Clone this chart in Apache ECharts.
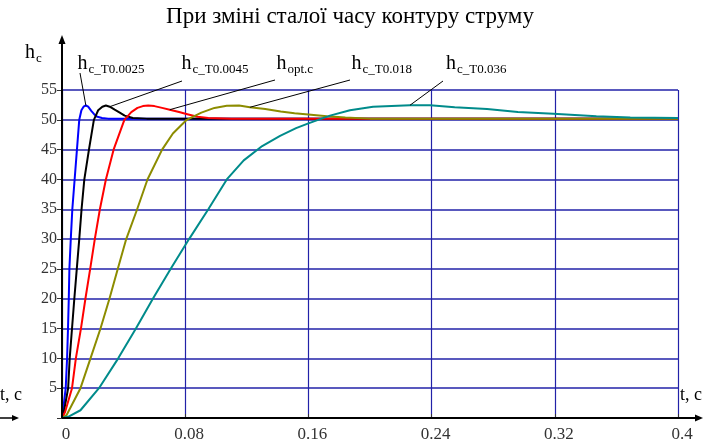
<!DOCTYPE html>
<html>
<head>
<meta charset="utf-8">
<script src="https://cdn.jsdelivr.net/npm/echarts@6/dist/echarts.min.js"></script>
<style>
  html, body { margin: 0; padding: 0; background: #fff; }
  #chart { width: 712px; height: 447px; }
</style>
</head>
<body>
<div id="chart"></div>
<script>
// Step responses of the speed loop h_c(t) for several current-loop time constants
const xTickLabels = ['0', '0.08', '0.16', '0.24', '0.32', '0.4'];
const yTickLabels = ['', '5', '10', '15', '20', '25', '30', '35', '40', '45', '50', '55'];

// T = 0.0025 s
const tBlue = [0, 0.0008, 0.0024, 0.0033, 0.0039, 0.0044, 0.0048, 0.0057, 0.0067, 0.0082, 0.0097, 0.0112,
  0.0126, 0.0140, 0.0155, 0.0170, 0.0190, 0.0210, 0.0230, 0.0260, 0.0300, 0.0400, 0.0800, 0.1600, 0.2400, 0.3200, 0.4000];
const hBlue = [0, 1.5, 5, 10, 15, 20, 25, 30, 35, 40, 45, 50,
  51.6, 52.2, 52.4, 52.2, 51.5, 50.9, 50.5, 50.3, 50.2, 50.2, 50.2, 50.2, 50.2, 50.2, 50.2];

// T = 0.0045 s
const tBlack = [0, 0.0012, 0.0040, 0.0050, 0.0065, 0.0080, 0.0096, 0.0112, 0.0127, 0.0145, 0.0175, 0.0207,
  0.0235, 0.0262, 0.0285, 0.0310, 0.0342, 0.0375, 0.0407, 0.0460, 0.0550, 0.0800, 0.1600, 0.2400, 0.3200, 0.4000];
const hBlack = [0, 1, 5, 10, 15, 20, 25, 30, 35, 40, 45, 50,
  51.6, 52.2, 52.4, 52.2, 51.7, 51.2, 50.7, 50.3, 50.2, 50.2, 50.2, 50.2, 50.2, 50.2];

// optimal setting
const tRed = [0, 0.0020, 0.0065, 0.0090, 0.0123, 0.0152, 0.0183, 0.0213, 0.0246, 0.0285, 0.0335, 0.0405,
  0.0450, 0.0490, 0.0525, 0.0560, 0.0600, 0.0650, 0.0700, 0.0760, 0.0820, 0.0880, 0.0950,
  0.1100, 0.1600, 0.2400, 0.3200, 0.4000];
const hRed = [0, 1, 5, 10, 15, 20, 25, 30, 35, 40, 45, 50,
  51.3, 52.0, 52.3, 52.4, 52.3, 52.0, 51.7, 51.3, 50.9, 50.5, 50.3,
  50.2, 50.2, 50.2, 50.2, 50.2];

// T = 0.018 s
const tOlive = [0, 0.0030, 0.0120, 0.0185, 0.0250, 0.0308, 0.0362, 0.0417, 0.0488, 0.0555, 0.0650, 0.0720,
  0.0810, 0.0905, 0.0990, 0.1070, 0.1150, 0.1220, 0.1320, 0.1420, 0.1510, 0.1600, 0.1720, 0.1840,
  0.2000, 0.2400, 0.3200, 0.4000];
const hOlive = [0, 0.5, 5, 10, 15, 20, 25, 30, 35, 40, 45, 47.7,
  50, 51.2, 52.0, 52.35, 52.4, 52.1, 51.8, 51.4, 51.1, 50.9, 50.6, 50.4,
  50.2, 50.2, 50.2, 50.2];

// T = 0.036 s
const tTeal = [0, 0.0040, 0.0120, 0.0240, 0.0365, 0.0480, 0.0590, 0.0705, 0.0825, 0.0950, 0.1070, 0.1180,
  0.1300, 0.1416, 0.1520, 0.1600, 0.1740, 0.1870, 0.2020, 0.2260, 0.2390, 0.2550,
  0.2760, 0.2960, 0.3190, 0.3470, 0.3690, 0.4000];
const hTeal = [0, 0.2, 1.3, 5, 10, 15, 20, 25, 30, 35, 40, 43.2,
  45.6, 47.3, 48.6, 49.4, 50.7, 51.6, 52.2, 52.45, 52.45, 52.1,
  51.8, 51.3, 51.0, 50.6, 50.4, 50.3];

const seriesSubs = ['c_T0.0025', 'c_T0.0045', 'opt.c', 'c_T0.018', 'c_T0.036'];
const seriesT = [tBlue, tBlack, tRed, tOlive, tTeal];
const seriesH = [hBlue, hBlack, hRed, hOlive, hTeal];
const seriesColors = ['#0000ff', '#000000', '#ff0000', '#8c8c00', '#008b8b'];
// sample index on each curve where its callout line ends
const calloutIdx = [14, 15, 18, 17, 19];

// callout text placement (h left edge, baseline) and start point of the leader line
const callouts = [
  { x: 77.5,  by: 70.5, lx: 80,  ly: 73 },
  { x: 181.5, by: 70.5, lx: 182, ly: 81 },
  { x: 276.5, by: 70.5, lx: 275, ly: 80 },
  { x: 351.5, by: 70.5, lx: 350, ly: 80 },
  { x: 446,   by: 70.5, lx: 443, ly: 81 }
];

const SERIF = '"Liberation Serif", "Times New Roman", serif';
const gridColor = '#2222a8';

const chart = echarts.init(document.getElementById('chart'), null, { renderer: 'canvas' });

chart.setOption({
  animation: false,
  backgroundColor: '#fff',
  grid: { left: 62, right: 34, top: 90, bottom: 29, containLabel: false },
  xAxis: {
    type: 'value', min: 0, max: 0.4, interval: 0.08,
    axisLine: { show: false },
    axisTick: { show: true, inside: true, length: 4, lineStyle: { color: '#333', width: 1 } },
    axisLabel: {
      margin: 8, padding: [0, 0, 0, 8], color: '#333',
      fontFamily: SERIF, fontSize: 17,
      formatter: (v, i) => xTickLabels[i]
    },
    splitLine: { show: true, lineStyle: { color: gridColor, width: 1.2 } }
  },
  yAxis: {
    type: 'value', min: 0, max: 55, interval: 5,
    axisLine: { show: false },
    axisTick: { show: true, inside: false, length: 5, lineStyle: { color: '#333', width: 1 } },
    axisLabel: {
      margin: 5, color: '#333', fontFamily: SERIF, fontSize: 16,
      formatter: (v, i) => yTickLabels[i]
    },
    splitLine: { show: true, lineStyle: { color: gridColor, width: 1.5 } }
  },
  series: seriesT.map((ts, k) => ({
    type: 'line',
    name: seriesSubs[k],
    data: ts.map((t, i) => [t, seriesH[k][i]]),
    showSymbol: false,
    symbol: 'none',
    lineStyle: { color: seriesColors[k], width: 2 },
    z: 3
  }))
});

const toPx = (t, v) => chart.convertToPixel({ gridIndex: 0 }, [t, v]);
const O = toPx(0, 0);

function text(x, baseline, s, size, color, align) {
  return {
    type: 'text', silent: true, z: 10,
    x: x, y: baseline - 0.34 * size,
    style: {
      text: s, font: size + 'px ' + SERIF, fill: color || '#000',
      align: align || 'left', verticalAlign: 'middle'
    }
  };
}
function line(x1, y1, x2, y2, w, color) {
  return { type: 'line', silent: true, z: 10,
    shape: { x1: x1, y1: y1, x2: x2, y2: y2 },
    style: { stroke: color || '#000', lineWidth: w || 1 } };
}
function tri(points) {
  return { type: 'polygon', silent: true, z: 10, shape: { points: points }, style: { fill: '#000' } };
}

const g = [];
// title
g.push(text(350, 25, 'При зміні сталої часу контуру струму', 23, '#000', 'center'));

// axes with arrows
g.push(line(O[0], O[1], 697, O[1], 2));
g.push(tri([[703, O[1]], [695, O[1] - 3.5], [695, O[1] + 3.5]]));
g.push(line(O[0], O[1], O[0], 43, 2));
g.push(tri([[O[0], 35], [O[0] - 3.5, 44], [O[0] + 3.5, 44]]));

// axis names
g.push(text(25, 59.5, 'h', 20));
g.push(text(36, 62.5, 'c', 13));
g.push(text(680, 401, 't, c', 18));
g.push(text(22, 401, 't, c', 18, '#000', 'right'));
g.push(line(0, O[1], 13, O[1], 1.5));
g.push(tri([[19, O[1]], [12, O[1] - 3], [12, O[1] + 3]]));

// curve callouts
callouts.forEach((c, k) => {
  g.push(text(c.x, c.by, 'h', 20));
  g.push(text(c.x + 11, c.by + 3, seriesSubs[k], 13));
  const idx = calloutIdx[k];
  const p = toPx(seriesT[k][idx], seriesH[k][idx]);
  g.push(line(c.lx, c.ly, p[0], p[1], 1));
});

chart.setOption({ graphic: g });
</script>
</body>
</html>
